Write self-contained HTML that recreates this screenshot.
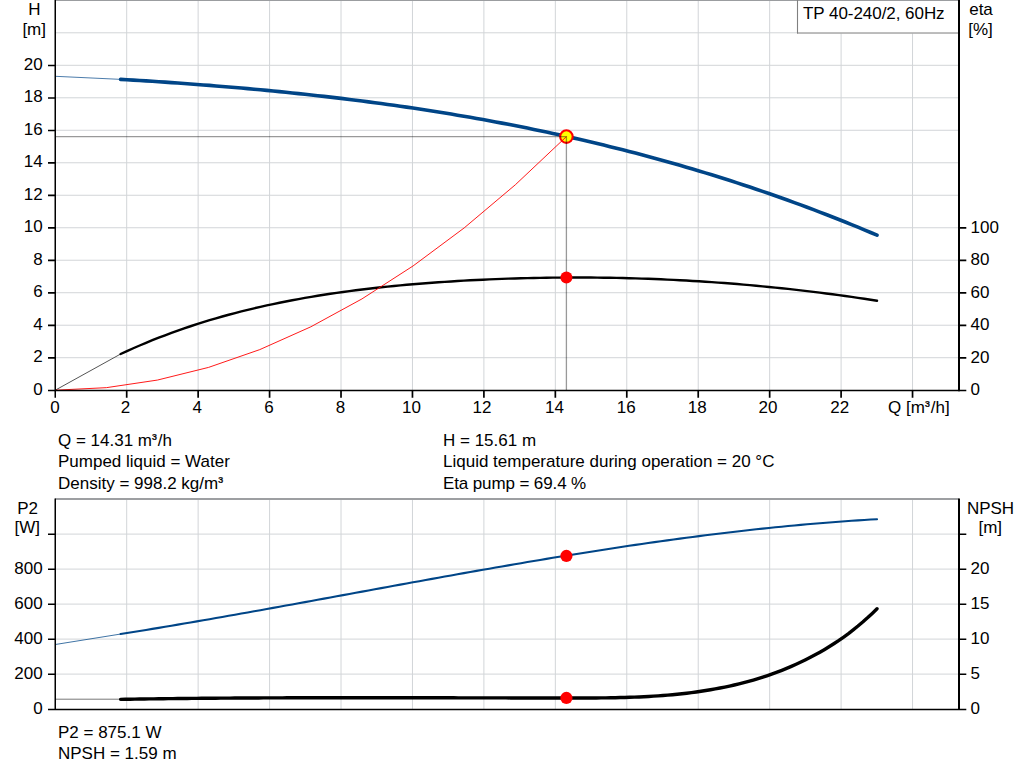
<!DOCTYPE html>
<html><head><meta charset="utf-8"><title>Pump curve</title>
<style>html,body{margin:0;padding:0;background:#fff;}svg{display:block;}</style>
</head><body>
<svg width="1024" height="781" viewBox="0 0 1024 781">
<rect width="1024" height="781" fill="#fff"/>
<path d="M126.7,0.3V390.2M198.14,0.3V390.2M269.58,0.3V390.2M341.02,0.3V390.2M412.46,0.3V390.2M483.9,0.3V390.2M555.34,0.3V390.2M626.78,0.3V390.2M698.22,0.3V390.2M769.66,0.3V390.2M841.1,0.3V390.2M912.54,0.3V390.2M55.25,357.71H958.7M55.25,325.22H958.7M55.25,292.73H958.7M55.25,260.24H958.7M55.25,227.75H958.7M55.25,195.26H958.7M55.25,162.77H958.7M55.25,130.28H958.7M55.25,97.79H958.7M55.25,65.3H958.7M55.25,32.81H958.7" stroke="#d2d5d8" stroke-width="1" fill="none"/>
<path d="M55.25,0.5H958.7" stroke="#9b9da0" stroke-width="1" fill="none"/>
<rect x="797" y="1" width="161.7" height="32" fill="#fff"/>
<path d="M797,33H958.7" stroke="#a8a8a8" stroke-width="1.6" fill="none"/>
<path d="M797.5,0V33.5" stroke="#808080" stroke-width="1.1" fill="none"/>
<text x="803" y="18.6" font-family="Liberation Sans, sans-serif" font-size="17" fill="#000" textLength="141.6" lengthAdjust="spacing">TP 40-240/2, 60Hz</text>
<path d="M55.3,76.3 L120.6,79.37" stroke="#004587" stroke-width="1" fill="none" stroke-opacity="0.7"/>
<path d="M120.6,79.37 L126.96,79.74 L133.31,80.13 L139.67,80.51 L146.03,80.91 L152.38,81.32 L158.74,81.73 L165.09,82.16 L171.45,82.59 L177.81,83.04 L184.16,83.49 L190.52,83.96 L196.88,84.43 L203.23,84.92 L209.59,85.41 L215.94,85.92 L222.3,86.44 L228.66,86.97 L235.01,87.51 L241.37,88.06 L247.73,88.63 L254.08,89.2 L260.44,89.79 L266.79,90.39 L273.15,91.01 L279.51,91.63 L285.86,92.27 L292.22,92.92 L298.58,93.59 L304.93,94.27 L311.29,94.96 L317.65,95.67 L324,96.39 L330.36,97.13 L336.71,97.88 L343.07,98.64 L349.43,99.42 L355.78,100.22 L362.14,101.03 L368.5,101.86 L374.85,102.7 L381.21,103.56 L387.56,104.43 L393.92,105.32 L400.28,106.23 L406.63,107.15 L412.99,108.09 L419.35,109.05 L425.7,110.02 L432.06,111.01 L438.42,112.02 L444.77,113.05 L451.13,114.09 L457.48,115.16 L463.84,116.24 L470.2,117.34 L476.55,118.46 L482.91,119.59 L489.27,120.75 L495.62,121.93 L501.98,123.12 L508.33,124.34 L514.69,125.58 L521.05,126.83 L527.4,128.11 L533.76,129.4 L540.12,130.72 L546.47,132.06 L552.83,133.42 L559.18,134.8 L565.54,136.2 L571.9,137.62 L578.25,139.07 L584.61,140.54 L590.97,142.03 L597.32,143.54 L603.68,145.07 L610.04,146.63 L616.39,148.21 L622.75,149.81 L629.1,151.44 L635.46,153.09 L641.82,154.77 L648.17,156.47 L654.53,158.19 L660.89,159.93 L667.24,161.71 L673.6,163.5 L679.95,165.32 L686.31,167.17 L692.67,169.04 L699.02,170.94 L705.38,172.86 L711.74,174.81 L718.09,176.78 L724.45,178.78 L730.81,180.81 L737.16,182.86 L743.52,184.94 L749.87,187.05 L756.23,189.19 L762.59,191.35 L768.94,193.54 L775.3,195.76 L781.66,198 L788.01,200.28 L794.37,202.58 L800.72,204.91 L807.08,207.27 L813.44,209.66 L819.79,212.07 L826.15,214.52 L832.51,217 L838.86,219.5 L845.22,222.04 L851.57,224.61 L857.93,227.2 L864.29,229.83 L870.64,232.49 L877,235.18" stroke="#004587" stroke-width="3.6" fill="none" stroke-linecap="round" stroke-linejoin="round"/>
<path d="M55.26,390.2 L120.6,354.02" stroke="#555" stroke-width="1" fill="none"/>
<path d="M120.6,354.02 L126.96,351.09 L133.31,348.25 L139.67,345.49 L146.03,342.82 L152.38,340.22 L158.74,337.71 L165.09,335.27 L171.45,332.9 L177.81,330.61 L184.16,328.39 L190.52,326.24 L196.88,324.17 L203.23,322.16 L209.59,320.21 L215.94,318.33 L222.3,316.51 L228.66,314.76 L235.01,313.06 L241.37,311.43 L247.73,309.85 L254.08,308.32 L260.44,306.85 L266.79,305.43 L273.15,304.06 L279.51,302.75 L285.86,301.47 L292.22,300.25 L298.58,299.07 L304.93,297.93 L311.29,296.84 L317.65,295.78 L324,294.77 L330.36,293.8 L336.71,292.86 L343.07,291.96 L349.43,291.1 L355.78,290.28 L362.14,289.49 L368.5,288.73 L374.85,288 L381.21,287.31 L387.56,286.64 L393.92,286 L400.28,285.4 L406.63,284.81 L412.99,284.26 L419.35,283.73 L425.7,283.22 L432.06,282.74 L438.42,282.28 L444.77,281.84 L451.13,281.43 L457.48,281.03 L463.84,280.66 L470.2,280.31 L476.55,279.99 L482.91,279.68 L489.27,279.4 L495.62,279.13 L501.98,278.89 L508.33,278.67 L514.69,278.46 L521.05,278.28 L527.4,278.11 L533.76,277.97 L540.12,277.85 L546.47,277.74 L552.83,277.66 L559.18,277.59 L565.54,277.55 L571.9,277.53 L578.25,277.52 L584.61,277.54 L590.97,277.57 L597.32,277.63 L603.68,277.71 L610.04,277.81 L616.39,277.92 L622.75,278.06 L629.1,278.22 L635.46,278.4 L641.82,278.6 L648.17,278.82 L654.53,279.06 L660.89,279.32 L667.24,279.6 L673.6,279.9 L679.95,280.23 L686.31,280.57 L692.67,280.94 L699.02,281.32 L705.38,281.73 L711.74,282.15 L718.09,282.6 L724.45,283.07 L730.81,283.56 L737.16,284.07 L743.52,284.6 L749.87,285.16 L756.23,285.73 L762.59,286.33 L768.94,286.94 L775.3,287.58 L781.66,288.24 L788.01,288.92 L794.37,289.62 L800.72,290.35 L807.08,291.09 L813.44,291.86 L819.79,292.65 L826.15,293.46 L832.51,294.29 L838.86,295.14 L845.22,296.01 L851.57,296.91 L857.93,297.83 L864.29,298.77 L870.64,299.73 L877,300.71" stroke="#000" stroke-width="2.4" fill="none" stroke-linecap="round" stroke-linejoin="round"/>
<circle cx="566.41" cy="136.62" r="6.3" fill="#ffff00" stroke="#ff0000" stroke-width="2.1"/>
<path d="M55.25,136.62H566.41V390.2" stroke="#000" stroke-opacity="0.4" stroke-width="1.3" fill="none"/>
<path d="M55.26,390.2 L106.38,387.66 L157.49,380.06 L208.61,367.38 L259.72,349.63 L310.84,326.8 L361.95,298.91 L413.07,265.94 L464.18,227.91 L515.3,184.8 L566.41,136.62" stroke="#ff0000" stroke-width="0.9" fill="none"/>
<circle cx="566.41" cy="277.46" r="6" fill="#ff0000"/>
<path d="M48,357.91H55.25M48,325.42H55.25M48,292.93H55.25M48,260.44H55.25M48,227.95H55.25M48,195.46H55.25M48,162.97H55.25M48,130.48H55.25M48,97.99H55.25M48,65.5H55.25M959.0,357.91H966.3M959.0,325.42H966.3M959.0,292.93H966.3M959.0,260.44H966.3M959.0,227.95H966.3M126.7,390V397.7M198.14,390V397.7M269.58,390V397.7M341.02,390V397.7M412.46,390V397.7M483.9,390V397.7M555.34,390V397.7M626.78,390V397.7M698.22,390V397.7M769.66,390V397.7M841.1,390V397.7M912.54,390V397.7" stroke="#000" stroke-width="1.7" fill="none"/>
<path d="M55.25,0V391.2" stroke="#000" stroke-width="1.5" fill="none"/>
<path d="M55.25,390V397.7" stroke="#000" stroke-width="1.5" fill="none"/>
<path d="M959.0,0V391.2" stroke="#000" stroke-width="2" fill="none"/>
<path d="M48,390.5H966.3" stroke="#000" stroke-width="1.5" fill="none"/>
<path d="M126.7,499.1V709.1M198.14,499.1V709.1M269.58,499.1V709.1M341.02,499.1V709.1M412.46,499.1V709.1M483.9,499.1V709.1M555.34,499.1V709.1M626.78,499.1V709.1M698.22,499.1V709.1M769.66,499.1V709.1M841.1,499.1V709.1M912.54,499.1V709.1M55.25,674.1H958.7M55.25,639.1H958.7M55.25,604.1H958.7M55.25,569.1H958.7M55.25,534.1H958.7" stroke="#d2d5d8" stroke-width="1" fill="none"/>
<path d="M55.25,499H958.7" stroke="#9d9fa2" stroke-width="1.9" fill="none"/>
<path d="M55.3,644.5 L120.6,634.05" stroke="#004587" stroke-width="1" fill="none" stroke-opacity="0.75"/>
<path d="M120.6,634.05 L126.96,633.04 L133.31,632.02 L139.67,630.99 L146.03,629.95 L152.38,628.9 L158.74,627.85 L165.09,626.79 L171.45,625.72 L177.81,624.65 L184.16,623.57 L190.52,622.48 L196.88,621.39 L203.23,620.29 L209.59,619.19 L215.94,618.08 L222.3,616.96 L228.66,615.84 L235.01,614.72 L241.37,613.59 L247.73,612.46 L254.08,611.32 L260.44,610.18 L266.79,609.03 L273.15,607.89 L279.51,606.74 L285.86,605.58 L292.22,604.43 L298.58,603.27 L304.93,602.11 L311.29,600.95 L317.65,599.79 L324,598.62 L330.36,597.46 L336.71,596.29 L343.07,595.12 L349.43,593.96 L355.78,592.79 L362.14,591.62 L368.5,590.46 L374.85,589.29 L381.21,588.12 L387.56,586.96 L393.92,585.8 L400.28,584.63 L406.63,583.47 L412.99,582.32 L419.35,581.16 L425.7,580.01 L432.06,578.86 L438.42,577.71 L444.77,576.56 L451.13,575.42 L457.48,574.29 L463.84,573.15 L470.2,572.02 L476.55,570.9 L482.91,569.78 L489.27,568.66 L495.62,567.55 L501.98,566.45 L508.33,565.35 L514.69,564.25 L521.05,563.17 L527.4,562.08 L533.76,561.01 L540.12,559.94 L546.47,558.88 L552.83,557.83 L559.18,556.78 L565.54,555.74 L571.9,554.71 L578.25,553.69 L584.61,552.67 L590.97,551.67 L597.32,550.67 L603.68,549.68 L610.04,548.7 L616.39,547.73 L622.75,546.77 L629.1,545.83 L635.46,544.89 L641.82,543.96 L648.17,543.04 L654.53,542.13 L660.89,541.24 L667.24,540.36 L673.6,539.48 L679.95,538.62 L686.31,537.78 L692.67,536.94 L699.02,536.12 L705.38,535.31 L711.74,534.51 L718.09,533.73 L724.45,532.96 L730.81,532.2 L737.16,531.46 L743.52,530.73 L749.87,530.02 L756.23,529.32 L762.59,528.64 L768.94,527.97 L775.3,527.32 L781.66,526.68 L788.01,526.06 L794.37,525.46 L800.72,524.87 L807.08,524.3 L813.44,523.74 L819.79,523.21 L826.15,522.69 L832.51,522.18 L838.86,521.7 L845.22,521.23 L851.57,520.79 L857.93,520.36 L864.29,519.95 L870.64,519.55 L877,519.18" stroke="#004587" stroke-width="2.1" fill="none" stroke-linecap="round" stroke-linejoin="round"/>
<path d="M55.3,699.2H120.6" stroke="#777" stroke-width="1" fill="none"/>
<path d="M120.6,699.34 L125.36,699.26 L130.11,699.18 L134.87,699.11 L139.63,699.04 L144.39,698.97 L149.14,698.91 L153.9,698.84 L158.66,698.78 L163.42,698.72 L168.17,698.66 L172.93,698.61 L177.69,698.56 L182.44,698.5 L187.2,698.46 L191.96,698.41 L196.72,698.36 L201.47,698.32 L206.23,698.28 L210.99,698.24 L215.74,698.2 L220.5,698.16 L225.26,698.13 L230.02,698.09 L234.77,698.06 L239.53,698.03 L244.29,698 L249.05,697.98 L253.8,697.95 L258.56,697.93 L263.32,697.9 L268.07,697.88 L272.83,697.86 L277.59,697.85 L282.35,697.83 L287.1,697.81 L291.86,697.8 L296.62,697.79 L301.37,697.77 L306.13,697.76 L310.89,697.75 L315.65,697.74 L320.4,697.74 L325.16,697.73 L329.92,697.72 L334.68,697.72 L339.43,697.71 L344.19,697.71 L348.95,697.71 L353.7,697.71 L358.46,697.71 L363.22,697.71 L367.98,697.71 L372.73,697.71 L377.49,697.71 L382.25,697.72 L387.01,697.72 L391.76,697.73 L396.52,697.73 L401.28,697.74 L406.03,697.74 L410.79,697.75 L415.55,697.75 L420.31,697.76 L425.06,697.77 L429.82,697.78 L434.58,697.78 L439.33,697.79 L444.09,697.8 L448.85,697.81 L453.61,697.82 L458.36,697.83 L463.12,697.84 L467.88,697.85 L472.64,697.86 L477.39,697.87 L482.15,697.87 L486.91,697.88 L491.66,697.89 L496.42,697.9 L501.18,697.91 L505.94,697.92 L510.69,697.93 L515.45,697.93 L520.21,697.94 L524.96,697.95 L529.72,697.96 L534.48,697.96 L539.24,697.97 L543.99,697.98 L548.75,697.98 L553.51,697.99 L558.27,697.99 L563.02,697.99 L567.78,698 L572.54,698 L577.29,698 L582.05,697.99 L586.81,697.98 L591.57,697.96 L596.32,697.93 L601.08,697.89 L605.84,697.83 L610.59,697.76 L615.35,697.68 L620.11,697.57 L624.87,697.45 L629.62,697.3 L634.38,697.13 L639.14,696.93 L643.9,696.71 L648.65,696.46 L653.41,696.17 L658.17,695.86 L662.92,695.51 L667.68,695.13 L672.44,694.7 L677.2,694.24 L681.95,693.74 L686.71,693.19 L691.47,692.61 L696.23,691.97 L700.98,691.29 L705.74,690.55 L710.5,689.77 L715.25,688.93 L720.01,688.04 L724.77,687.09 L729.53,686.08 L734.28,685.01 L739.04,683.88 L743.8,682.67 L748.55,681.4 L753.31,680.06 L758.07,678.64 L762.83,677.14 L767.58,675.57 L772.34,673.91 L777.1,672.16 L781.86,670.33 L786.61,668.41 L791.37,666.39 L796.13,664.28 L800.88,662.07 L805.64,659.76 L810.4,657.34 L815.16,654.82 L819.91,652.19 L824.67,649.43 L829.43,646.54 L834.18,643.52 L838.94,640.35 L843.7,637.02 L848.46,633.54 L853.21,629.88 L857.97,626.05 L862.73,622.03 L867.49,617.82 L872.24,613.4 L877,608.78" stroke="#000" stroke-width="3.4" fill="none" stroke-linecap="round" stroke-linejoin="round"/>
<circle cx="566.41" cy="555.96" r="6.1" fill="#ff0000"/>
<circle cx="566.41" cy="697.97" r="6.1" fill="#ff0000"/>
<path d="M48,674.3H55.25M48,639.3H55.25M48,604.3H55.25M48,569.3H55.25M48,534.3H55.25M959.0,674.3H966.3M959.0,639.3H966.3M959.0,604.3H966.3M959.0,569.3H966.3M959.0,534.3H966.3" stroke="#000" stroke-width="1.6" fill="none"/>
<path d="M55.25,498.6V710.1" stroke="#000" stroke-width="1.5" fill="none"/>
<path d="M959.0,498.6V710.1" stroke="#000" stroke-width="2" fill="none"/>
<path d="M48,709.5H966.3" stroke="#000" stroke-width="1.3" fill="none"/>
<g font-family="Liberation Sans, sans-serif" font-size="17" fill="#000"><text x="42.6" y="394.6" text-anchor="end">0</text><text x="42.6" y="362.11" text-anchor="end">2</text><text x="42.6" y="329.62" text-anchor="end">4</text><text x="42.6" y="297.13" text-anchor="end">6</text><text x="42.6" y="264.64" text-anchor="end">8</text><text x="42.6" y="232.15" text-anchor="end">10</text><text x="42.6" y="199.66" text-anchor="end">12</text><text x="42.6" y="167.17" text-anchor="end">14</text><text x="42.6" y="134.68" text-anchor="end">16</text><text x="42.6" y="102.19" text-anchor="end">18</text><text x="42.6" y="69.7" text-anchor="end">20</text><text x="970.5" y="395.1">0</text><text x="970.5" y="362.61">20</text><text x="970.5" y="330.12">40</text><text x="970.5" y="297.63">60</text><text x="970.5" y="265.14">80</text><text x="970.5" y="232.65">100</text><text x="54.91" y="412.8" text-anchor="middle">0</text><text x="125.5" y="412.8" text-anchor="middle">2</text><text x="197.19" y="412.8" text-anchor="middle">4</text><text x="268.88" y="412.8" text-anchor="middle">6</text><text x="340.52" y="412.8" text-anchor="middle">8</text><text x="411.56" y="412.8" text-anchor="middle">10</text><text x="482" y="412.8" text-anchor="middle">12</text><text x="554.54" y="412.8" text-anchor="middle">14</text><text x="626.18" y="412.8" text-anchor="middle">16</text><text x="697.27" y="412.8" text-anchor="middle">18</text><text x="767.91" y="412.8" text-anchor="middle">20</text><text x="839.65" y="412.8" text-anchor="middle">22</text><text x="888" y="413" textLength="61.7" lengthAdjust="spacing">Q [m<tspan font-size="14.5" dy="-2" stroke="#000" stroke-width="0.3">³</tspan><tspan dx="0.85" dy="2">/h]</tspan></text><text x="34.5" y="14.6" text-anchor="middle">H</text><text x="34.2" y="34.5" text-anchor="middle">[m]</text><text x="981" y="14.5" text-anchor="middle">eta</text><text x="980.5" y="34.5" text-anchor="middle">[%]</text><text x="58" y="445.8">Q = 14.31 m<tspan font-size="14.5" dy="-2" stroke="#000" stroke-width="0.3">³</tspan><tspan dx="0.85" dy="2">/h</tspan></text><text x="58" y="467.3">Pumped liquid = Water</text><text x="58" y="488.8">Density = 998.2 kg/m<tspan font-size="14.5" dy="-2" stroke="#000" stroke-width="0.3">³</tspan></text><text x="443" y="445.8">H = 15.61 m</text><text x="443" y="467.3">Liquid temperature during operation = 20 °C</text><text x="443" y="488.8" textLength="143.2" lengthAdjust="spacing">Eta pump = 69.4 %</text><text x="42.6" y="713.5" text-anchor="end">0</text><text x="42.6" y="678.5" text-anchor="end">200</text><text x="42.6" y="643.5" text-anchor="end">400</text><text x="42.6" y="608.5" text-anchor="end">600</text><text x="42.6" y="573.5" text-anchor="end">800</text><text x="970.5" y="714">0</text><text x="970.5" y="679">5</text><text x="970.5" y="644">10</text><text x="970.5" y="609">15</text><text x="970.5" y="574">20</text><text x="27.6" y="514" text-anchor="middle">P2</text><text x="27.2" y="533" text-anchor="middle">[W]</text><text x="990.5" y="514" text-anchor="middle">NPSH</text><text x="990.3" y="533" text-anchor="middle">[m]</text><text x="58" y="737.6">P2 = 875.1 W</text><text x="58" y="758.6">NPSH = 1.59 m</text></g>
</svg>
</body></html>
